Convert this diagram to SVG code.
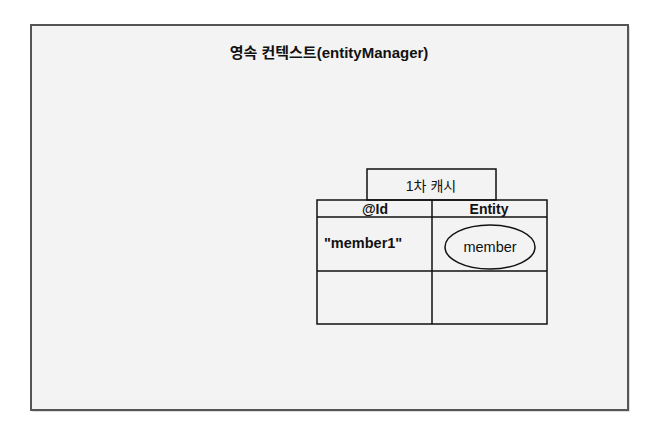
<svg xmlns="http://www.w3.org/2000/svg" width="654" height="428" viewBox="0 0 654 428">
<defs>
<style>
.t{font-family:"Liberation Sans","Noto Sans CJK KR",sans-serif;fill:#111}
.line{stroke:#111;stroke-width:1.5;fill:none}
</style>
</defs>
<rect width="654" height="428" fill="#ffffff"/>
<g id="context">
<rect x="32.5" y="26.5" width="597" height="385" fill="#7a7a7a" opacity="0.5"/>
<rect x="31" y="25" width="597" height="385" fill="#f3f3f3" stroke="#555" stroke-width="2"/>
<text class="t" x="329" y="58" text-anchor="middle" font-size="15" font-weight="bold">영속 컨텍스트(entityManager)</text>
</g>
<g id="cache-tab">
<rect x="367" y="169" width="129" height="31" fill="#fff" class="line"/>
<text class="t" x="431" y="191" text-anchor="middle" font-size="14">1차 캐시</text>
</g>
<g id="cache-table">
<rect x="317" y="200" width="230" height="124" fill="#fff" class="line"/>
<line x1="317" y1="217" x2="547" y2="217" class="line"/>
<line x1="317" y1="271" x2="547" y2="271" class="line"/>
<line x1="432" y1="200" x2="432" y2="324" class="line"/>
<text class="t" x="375" y="214" text-anchor="middle" font-size="14" font-weight="bold">@Id</text>
<text class="t" x="489" y="214" text-anchor="middle" font-size="14" font-weight="bold">Entity</text>
<text class="t" x="324" y="248" font-size="14.5" font-weight="bold" fill="#222">"member1"</text>
</g>
<g id="member">
<ellipse cx="490" cy="247" rx="45" ry="22" fill="#fff" class="line"/>
<text class="t" x="490" y="252" text-anchor="middle" font-size="14.5">member</text>
</g>
<g id="connectors"></g>
</svg>
